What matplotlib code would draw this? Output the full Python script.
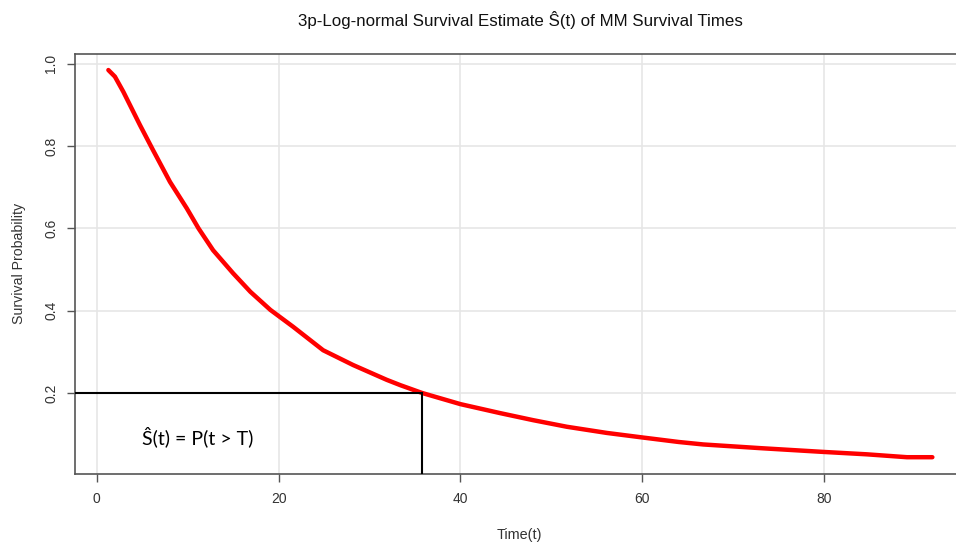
import matplotlib
matplotlib.use("Agg")
import matplotlib.pyplot as plt

# Fitted 3-parameter log-normal survival curve S(t)
time_t = [1.28, 2.0, 2.93, 4.76, 6.2, 8.06, 9.9, 11.2, 12.8, 15.0, 16.9, 19.1,
          21.6, 24.9, 28.2, 31.9, 33.4, 35.8, 40.0, 44.4, 48.0, 51.7, 56.1,
          60.0, 64.0, 66.7, 73.0, 79.8, 84.7, 89.1, 91.9]
surv = [0.985, 0.969, 0.932, 0.851, 0.790, 0.713, 0.649, 0.600, 0.547, 0.491,
        0.446, 0.402, 0.361, 0.304, 0.268, 0.232, 0.219, 0.200, 0.173, 0.151,
        0.134, 0.118, 0.103, 0.092, 0.081, 0.075, 0.066, 0.057, 0.051, 0.044,
        0.044]

# Reference point marked on the curve
mark_t = 35.8
mark_s = 0.2

x_ticks = [0, 20, 40, 60, 80]
y_ticks = [0.2, 0.4, 0.6, 0.8, 1.0]

plt.rcParams["font.family"] = ["Liberation Sans", "DejaVu Sans"]

fig = plt.figure(figsize=(9.56, 5.44), dpi=100)
# plot region runs off the right edge of the canvas
ax = fig.add_axes([75 / 956, 70.5 / 544, 881 / 956, 419.5 / 544])

ax.set_xlim(-2.39, 94.5)
ax.set_ylim(0.0044, 1.024)

ax.set_xticks(x_ticks)
ax.set_yticks(y_ticks)
ax.set_xticklabels([str(v) for v in x_ticks])
ax.set_yticklabels([f"{v:.1f}" for v in y_ticks], rotation=90, va="center")

ax.grid(True, color="#e6e6e6", linewidth=1.2)
ax.set_axisbelow(True)

for side in ax.spines.values():
    side.set_color("#555555")
    side.set_linewidth(1.2)
ax.spines["right"].set_visible(False)

ax.tick_params(axis="both", colors="#555555", labelcolor="#333333",
               labelsize=10, length=6, width=1.0)
ax.tick_params(axis="x", pad=7)
ax.tick_params(axis="y", pad=6)

ax.plot(time_t, surv, color="#ff0000", linewidth=3.2, solid_capstyle="round",
        solid_joinstyle="round", zorder=3)

ax.plot([ax.get_xlim()[0], mark_t], [mark_s, mark_s], color="black",
        linewidth=1.5, zorder=4)
ax.plot([mark_t, mark_t], [ax.get_ylim()[0], mark_s], color="black",
        linewidth=1.5, zorder=4)

ax.text(4.98, 0.093, "Ŝ(t) = P(t > T)", fontsize=14, family=["Lato", "DejaVu Sans"],
        ha="left", va="center", color="black")

ax.set_title("3p-Log-normal Survival Estimate Ŝ(t) of MM Survival Times",
             fontsize=12.2, color="#111111", pad=20, x=(520 - 75) / 881)
ax.set_xlabel("Time(t)", fontsize=10.4, color="#333333", labelpad=14)
ax.xaxis.set_label_coords((519 - 75) / 881, -0.13)
ax.set_ylabel("Survival Probability", fontsize=10.2, color="#333333", labelpad=13)

fig.savefig("out.png", dpi=100)
